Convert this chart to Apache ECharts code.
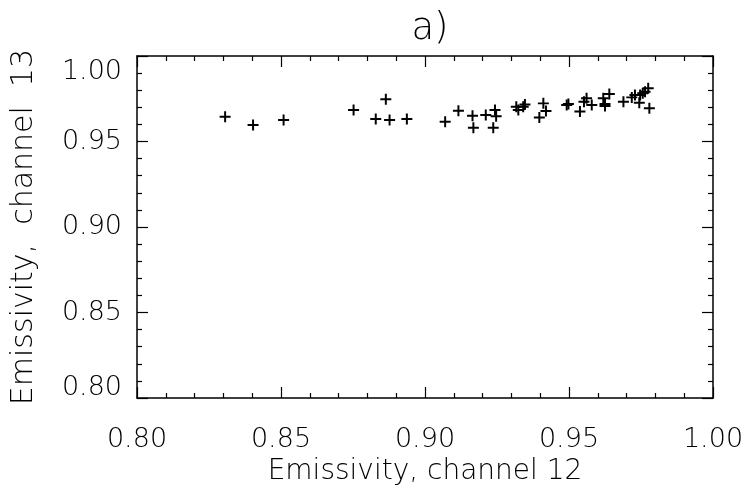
<!DOCTYPE html>
<html>
<head>
<meta charset="utf-8">
<script src="https://cdn.jsdelivr.net/npm/echarts@6/dist/echarts.min.js"></script>
<style>
html,body{margin:0;padding:0;background:#fff;}
#chart{width:747px;height:493px;}
</style>
</head>
<body>
<div id="chart"></div>
<script>
const titleText = 'a)';
const xAxisName = 'Emissivity, channel 12';
const yAxisName = 'Emissivity,  channel  13';
const ch12 = [0.8306,0.8403,0.8509,0.8752,0.8864,0.8829,0.8877,0.8937,0.9070,0.9116,
  0.9165,0.9168,0.9211,0.9243,0.9247,0.9237,0.9317,0.9324,0.9347,0.9341,
  0.9411,0.9420,0.9397,0.9492,0.9498,0.9538,0.9552,0.9561,0.9579,0.9619,
  0.9640,0.9625,0.9625,0.9689,0.9718,0.9729,0.9747,0.9744,0.9756,0.9764,
  0.9775,0.9779];
const ch13 = [0.9645,0.9596,0.9626,0.9684,0.9747,0.9631,0.9626,0.9631,0.9616,0.9680,
  0.9651,0.9581,0.9655,0.9684,0.9647,0.9581,0.9703,0.9684,0.9717,0.9703,
  0.9723,0.9678,0.9641,0.9713,0.9719,0.9676,0.9733,0.9753,0.9713,0.9753,
  0.9778,0.9719,0.9708,0.9733,0.9758,0.9772,0.9772,0.9727,0.9782,0.9791,
  0.9811,0.9694];
const axisMin = 0.80, axisMax = 1.00, axisStep = 0.05;

const font = 'DejaVu Sans';
const fw = 200;
const fg = '#000';
const pts = ch12.map((x, i) => [x, ch13[i]]);

const baseAxis = {
  min: axisMin, max: axisMax, interval: axisStep,
  axisLine: {show: true, onZero: false, lineStyle: {color: fg, width: 1.5}},
  axisTick: {show: true, inside: true, length: 11, lineStyle: {color: fg, width: 1.2}},
  minorTick: {show: true, splitNumber: 5, length: 5, lineStyle: {color: fg, width: 1.2}},
  splitLine: {show: false},
  minorSplitLine: {show: false}
};

const chart = echarts.init(document.getElementById('chart'));
chart.setOption({
  animation: false,
  backgroundColor: '#fff',
  title: {
    text: titleText, left: 425, top: 6, textAlign: 'center',
    textStyle: {fontFamily: font, fontWeight: fw, fontSize: 37, color: fg}
  },
  grid: {left: 137, right: 34, top: 56, bottom: 95},
  xAxis: [
    Object.assign({}, baseAxis, {
      type: 'value', position: 'bottom',
      name: xAxisName, nameLocation: 'middle', nameGap: 57,
      nameTextStyle: {fontFamily: font, fontWeight: fw, fontSize: 28, color: fg},
      axisLabel: {margin: 28, fontFamily: font, fontWeight: fw, fontSize: 27, color: fg,
        formatter: v => v.toFixed(2)}
    }),
    Object.assign({}, baseAxis, {
      type: 'value', position: 'top', axisLabel: {show: false}
    })
  ],
  yAxis: [
    Object.assign({}, baseAxis, {
      type: 'value', position: 'left',
      name: yAxisName, nameLocation: 'middle', nameGap: 98,
      nameTextStyle: {fontFamily: font, fontWeight: fw, fontSize: 30, color: fg},
      axisLabel: {margin: 15, fontFamily: font, fontWeight: fw, fontSize: 27, color: fg,
        formatter: v => {
          const s = v.toFixed(2);
          if (Math.abs(v - axisMax) < 1e-9) return '{t|' + s + '}';
          if (Math.abs(v - axisMin) < 1e-9) return '{b|' + s + '}';
          return s;
        },
        rich: {
          t: {fontFamily: font, fontWeight: fw, fontSize: 27, color: fg, padding: [32, 0, 0, 0]},
          b: {fontFamily: font, fontWeight: fw, fontSize: 27, color: fg, padding: [0, 0, 20, 0]}
        }
      }
    }),
    Object.assign({}, baseAxis, {
      type: 'value', position: 'right', axisLabel: {show: false}
    })
  ],
  series: [{
    type: 'scatter',
    data: pts,
    symbol: 'path://M-0.9,-5 L0.9,-5 L0.9,-0.9 L5,-0.9 L5,0.9 L0.9,0.9 L0.9,5 L-0.9,5 L-0.9,0.9 L-5,0.9 L-5,-0.9 L-0.9,-0.9Z',
    symbolSize: 11,
    itemStyle: {color: fg, opacity: 1}
  }]
});
</script>
</body>
</html>
